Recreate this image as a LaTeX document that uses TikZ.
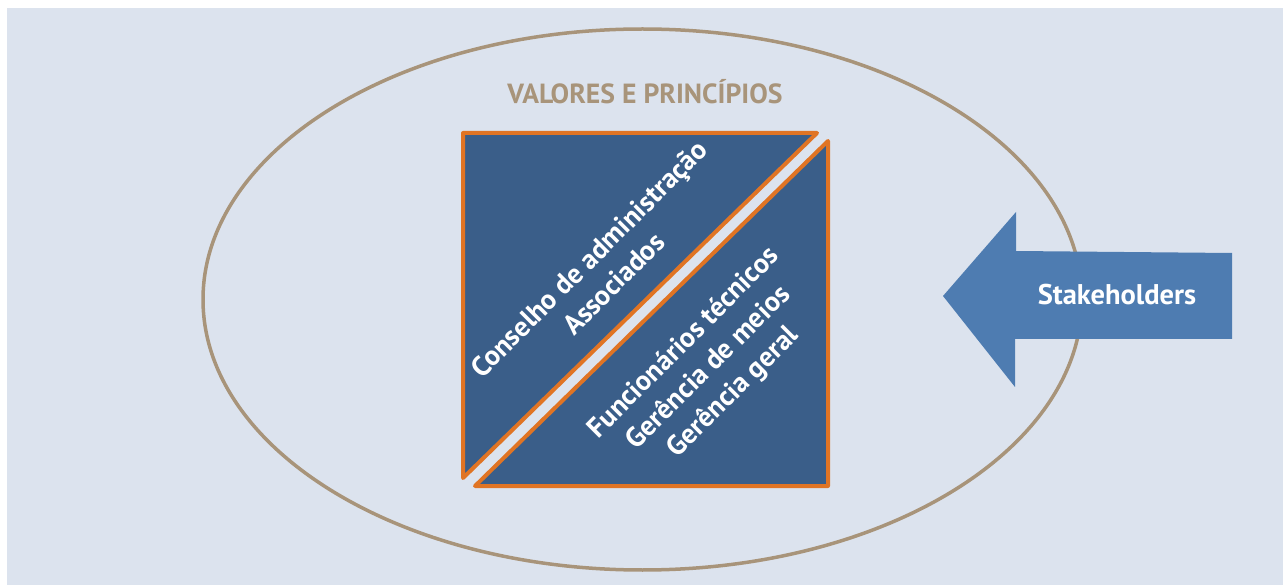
\documentclass[tikz,border=0pt]{standalone}
\usepackage{fontspec}
\setmainfont{PT Sans}
\definecolor{bg}{HTML}{DCE3EE}
\definecolor{tan}{HTML}{A8947A}
\definecolor{orng}{HTML}{E07424}
\definecolor{sq}{HTML}{3A5E89}
\definecolor{arr}{HTML}{4E7CB1}
\tikzset{
  tri/.style={fill=sq, draw=orng, line width=4pt, line join=round},
  diagtext/.style={text=white, font=\fontsize{28}{35}\selectfont\bfseries, align=center, rotate=45, inner sep=0pt},
}
\begin{document}
\begin{tikzpicture}[x=1pt,y=-1pt]
\useasboundingbox (0,0) rectangle (1283,585);
\fill[bg] (7,8) rectangle (1283,585);
\draw[tan, line width=3.5pt] (642.5,299.5) ellipse [x radius=439.5, y radius=270.5];
\node[text=tan, font=\fontsize{27.7}{30}\selectfont\bfseries] (title) at (645,92) {VALORES E PRINCÍPIOS};
\draw[tri] (463,133) -- (817,133) -- (463,478) -- cycle;
\draw[tri] (828,141) -- (828,486) -- (475,486) -- cycle;
\node[diagtext] (upper) at (601,271) {Conselho de administração\\Associados};
\node[diagtext] (lower) at (709,368) {Funcionários técnicos\\Gerência de meios\\Gerência geral};
\fill[arr] (943,296) -- (1016,212) -- (1016,251) -- (1232,253) -- (1232,339) -- (1015,339) -- (1015,387) -- cycle;
\node[text=white, font=\fontsize{28.5}{30}\selectfont\bfseries] (stake) at (1117,295) {Stakeholders};
\end{tikzpicture}
\end{document}
